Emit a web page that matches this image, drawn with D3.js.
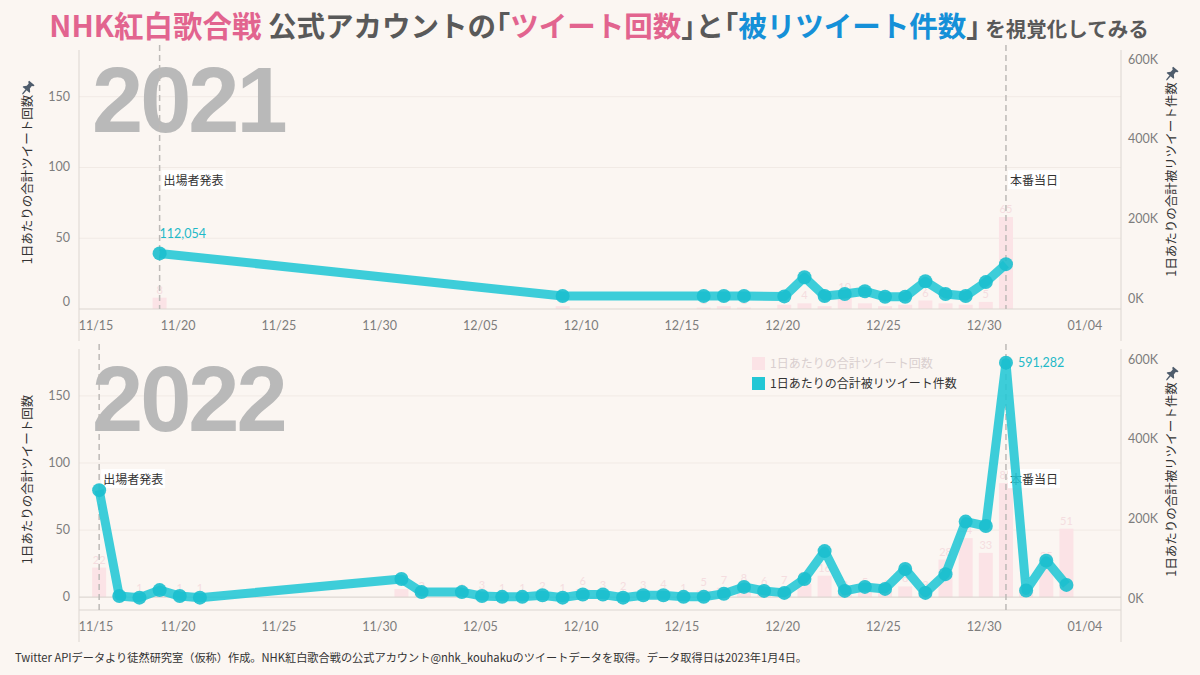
<!DOCTYPE html>
<html>
<head>
<meta charset="utf-8">
<script src="https://cdn.jsdelivr.net/npm/d3@7"></script>
<style>
  body { margin: 0; background: #fbf6f2; }
  svg { display: block; }
</style>
</head>
<body>
<div id="chart"></div>
<script>
// ---- data ----
const dates2021 = ["11/19","12/09","12/16","12/17","12/18","12/20","12/21","12/22","12/23","12/24",
  "12/25","12/26","12/27","12/28","12/29","12/30","12/31"];
const retweets2021 = [112054, 5000, 5000, 5000, 5000, 4000, 52000, 5000, 10000, 17000,
  3000, 3000, 42000, 10000, 5000, 40000, 85000];
const tweets2021 = [8, 2, 1, 2, 1, 3, 4, 2, 10, 4, 2, 3, 6, 4, 3, 5, 65];

const dates2022 = ["11/16","11/17","11/18","11/19","11/20","11/21","12/01","12/02","12/04","12/05",
  "12/06","12/07","12/08","12/09","12/10","12/11","12/12","12/13","12/14","12/15",
  "12/16","12/17","12/18","12/19","12/20","12/21","12/22","12/23","12/24","12/25",
  "12/26","12/27","12/28","12/29","12/30","12/31","01/01","01/02","01/03"];
const retweets2022 = [271000, 5000, 1000, 20000, 5000, 1000, 48000, 15000, 15000, 5000,
  3000, 3000, 7000, 1000, 9000, 9000, 1000, 7000, 7000, 3000,
  3000, 11000, 28000, 18000, 13000, 48000, 118000, 18000, 28000, 23000,
  73000, 13000, 60000, 192000, 181000, 591282, 19000, 94000, 33000];
const tweets2022 = [22, 1, 1, 1, 1, 1, 6, 2, 1, 3,
  1, 1, 2, 1, 6, 3, 2, 3, 4, 1,
  5, 7, 8, 6, 7, 10, 16, 3, 5, 4,
  8, 3, 28, 44, 33, 85, 5, 25, 51];

const refDates2021 = ["11/19", "12/31"];
const refDates2022 = ["11/16", "12/31"];
const refLabels = ["出場者発表", "本番当日"];

const leftTicks = [0, 50, 100, 150];
const rightTicks = [0, 200000, 400000, 600000];

const leftTitle = "1日あたりの合計ツイート回数";
const rightTitle = "1日あたりの合計被リツイート件数";
const legendLabels = ["1日あたりの合計ツイート回数", "1日あたりの合計被リツイート件数"];

// ---- layout ----
const width = 1200, height = 675;
const left = 79, right = 1121;
const teal = "#22c7d5";
const barPink = "#fbe3e6";
const axisGray = "#dcd6d1";
const jp = "'Noto Sans CJK JP', 'Noto Sans', sans-serif";

const charts = [
  { year: 2021, dates: dates2021, rt: retweets2021, tw: tweets2021, refs: refDates2021,
    top: 50, bottom: 309, leftDomain: [0, 183], rightDomain: [-27600, 623000],
    peak: "above", pinLeft: true, legend: false },
  { year: 2022, dates: dates2022, rt: retweets2022, tw: tweets2022, refs: refDates2022,
    top: 349, bottom: 610, leftDomain: [-9.6, 185], rightDomain: [-30000, 625600],
    peak: "right", pinLeft: false, legend: true }
];

const svg = d3.select("#chart").append("svg")
  .attr("width", width).attr("height", height);

svg.append("rect").attr("width", width).attr("height", height).attr("fill", "#fbf6f2");

// title (brackets set half-width like the original)
const title = svg.append("text")
  .attr("x", 599).attr("y", 37)
  .attr("text-anchor", "middle")
  .style("font-family", jp).style("font-weight", 700);
[
  ["NHK紅白歌合戦", "#e2648f", 29.5, false],
  [" 公式アカウントの", "#595959", 28.5, false],
  ["「", "#595959", 28.5, true],
  ["ツイート回数", "#e2648f", 28.5, false],
  ["」", "#595959", 28.5, true],
  ["と", "#595959", 28.5, false],
  ["「", "#595959", 28.5, true],
  ["被リツイート件数", "#1590d8", 28.5, false],
  ["」", "#595959", 28.5, true],
  [" を視覚化してみる", "#595959", 20.5, false]
].forEach(([t, c, s, half]) => {
  const ts = title.append("tspan").attr("fill", c).style("font-size", s + "px").text(t);
  if (half) ts.style("font-feature-settings", "'halt'");
});

function pin(g, x, y) {
  g.append("path")
    .attr("transform", `translate(${x},${y}) rotate(40)`)
    .attr("d", "M-3.5,-6 h7 v1.5 l-1.5,1 v3 l2.5,2.5 v1 h-9 v-1 l2.5,-2.5 v-3 l-1.5,-1 z M-0.7,3 h1.4 v5 l-0.7,1 l-0.7,-1 z")
    .attr("fill", "#4e5c6c");
}

const fmt = d3.timeFormat("%m/%d");

charts.forEach(c => {
  const parse = (s, h) => {
    const [m, d] = s.split("/").map(Number);
    return new Date(m < 6 ? c.year + 1 : c.year, m - 1, d, h);
  };
  const x = d3.scaleTime()
    .domain([new Date(c.year, 10, 15, 2), new Date(c.year + 1, 0, 5, 19)])
    .range([left, right]);
  const yL = d3.scaleLinear().domain(c.leftDomain).range([c.bottom, c.top]);
  const yR = d3.scaleLinear().domain(c.rightDomain).range([c.bottom, c.top]);

  const rows = c.dates.map((s, i) => ({ date: parse(s, 2), rt: c.rt[i], tw: c.tw[i] }));

  const g = svg.append("g");

  // gridlines
  g.selectAll(".grid").data(leftTicks.filter(v => v > 0)).enter().append("line")
    .attr("x1", left).attr("x2", right)
    .attr("y1", d => yL(d)).attr("y2", d => yL(d))
    .attr("stroke", "#f1eae5").attr("stroke-width", 1);

  // big year
  g.append("text")
    .attr("x", 92).attr("y", c.top + 82)
    .attr("fill", "#b9b9b9")
    .style("font-family", "'Liberation Sans', Arial, sans-serif")
    .style("font-weight", 700).style("font-size", "92px")
    .style("letter-spacing", "-3px")
    .text(c.year);

  // bars
  g.selectAll(".bar").data(rows).enter().append("rect")
    .attr("x", d => x(d.date) - 7).attr("width", 14)
    .attr("y", d => yL(d.tw)).attr("height", d => yL(0) - yL(d.tw))
    .attr("fill", barPink);
  g.selectAll(".barlab").data(rows).enter().append("text")
    .attr("x", d => x(d.date)).attr("y", d => yL(d.tw) - 4)
    .attr("text-anchor", "middle")
    .attr("fill", "#f5dde0")
    .style("font-family", "Lato, 'Noto Sans', sans-serif").style("font-size", "11px")
    .text(d => d.tw);

  // frame lines
  g.append("line").attr("x1", left).attr("x2", right).attr("y1", c.bottom).attr("y2", c.bottom)
    .attr("stroke", axisGray);
  if (yL(0) < c.bottom - 1) {
    g.append("line").attr("x1", left).attr("x2", right).attr("y1", yL(0)).attr("y2", yL(0))
      .attr("stroke", "#d6d0cb");
  }
  [left, right].forEach(px => {
    g.append("line").attr("x1", px).attr("x2", px).attr("y1", c.top).attr("y2", c.bottom + 32)
      .attr("stroke", axisGray);
  });

  // axes
  const tickStyle = sel => {
    sel.select(".domain").remove();
    sel.selectAll("text").attr("fill", "#7d7d7d")
      .style("font-family", "Lato, 'Noto Sans', sans-serif").style("font-size", "12.5px");
  };
  const ax = g.append("g").attr("transform", `translate(0,${c.bottom})`)
    .call(d3.axisBottom(x)
      .tickValues(d3.timeDay.range(new Date(c.year, 10, 15), new Date(c.year + 1, 0, 6), 5))
      .tickFormat(fmt).tickSize(0).tickPadding(12))
    .call(tickStyle);
  ax.selectAll(".tick").attr("transform", d => `translate(${Math.max(x(d), left + 17)},0)`);

  const al = g.append("g").attr("transform", `translate(${left},0)`)
    .call(d3.axisLeft(yL).tickValues(leftTicks).tickSize(0).tickPadding(9))
    .call(tickStyle);
  al.selectAll(".tick").attr("transform", d => `translate(0,${Math.min(yL(d), c.bottom - 7)})`);

  g.append("g").attr("transform", `translate(${right},0)`)
    .call(d3.axisRight(yR).tickValues(rightTicks).tickSize(0).tickPadding(7)
      .tickFormat(d => d3.format("d")(d / 1000) + "K"))
    .call(tickStyle);

  // axis titles
  const midY = (c.top + c.bottom) / 2;
  [[28, leftTitle], [1172, rightTitle]].forEach(([tx, t]) => {
    g.append("text")
      .attr("transform", `translate(${tx},${midY}) rotate(-90)`)
      .attr("text-anchor", "middle").attr("dy", "0.35em")
      .attr("fill", "#333")
      .style("font-family", jp).style("font-size", "12.5px")
      .text(t);
  });
  if (c.pinLeft) pin(g, 28, midY - 92);
  pin(g, 1172, midY - 106);

  // reference lines
  c.refs.forEach((s, i) => {
    const rx = x(parse(s, 2));
    g.append("line").attr("x1", rx).attr("x2", rx)
      .attr("y1", c.top - 5).attr("y2", c.bottom)
      .attr("stroke", "#bdbab7").attr("stroke-width", 1.5)
      .attr("stroke-dasharray", "6,4");
    const lab = g.append("g");
    const t = lab.append("text")
      .attr("x", rx + 4).attr("y", c.top + 131).attr("dy", "0.35em")
      .attr("fill", "#333")
      .style("font-family", jp).style("font-size", "12px")
      .text(refLabels[i]);
    const bb = t.node().getBBox();
    lab.insert("rect", "text")
      .attr("x", bb.x - 2).attr("y", bb.y - 1)
      .attr("width", bb.width + 4).attr("height", bb.height + 2)
      .attr("fill", "#fff");
  });

  // retweet line
  g.append("path").datum(rows)
    .attr("d", d3.line().x(d => x(d.date)).y(d => yR(d.rt)))
    .attr("fill", "none").attr("stroke", teal)
    .attr("stroke-width", 9).attr("stroke-opacity", 0.88)
    .attr("stroke-linejoin", "round");
  g.selectAll(".pt").data(rows).enter().append("circle")
    .attr("cx", d => x(d.date)).attr("cy", d => yR(d.rt)).attr("r", 7)
    .attr("fill", "#1bbfce").attr("opacity", 0.9);

  // peak label
  const peak = rows.reduce((a, b) => (b.rt > a.rt ? b : a));
  g.append("text")
    .attr("x", c.peak === "above" ? x(peak.date) : x(peak.date) + 12)
    .attr("y", c.peak === "above" ? yR(peak.rt) - 20 : yR(peak.rt))
    .attr("dy", "0.35em")
    .attr("fill", "#1fb9c8")
    .style("font-family", "Lato, 'Noto Sans', sans-serif").style("font-size", "12.5px")
    .text(d3.format(",")(peak.rt));

  // legend
  if (c.legend) {
    const lg = g.append("g").attr("transform", `translate(752,${c.top + 8})`);
    [[barPink, "#d9cfcf"], [teal, "#333"]].forEach(([fill, tc], i) => {
      lg.append("rect").attr("x", 0).attr("y", i * 20).attr("width", 13).attr("height", 13).attr("fill", fill);
      lg.append("text").attr("x", 18).attr("y", i * 20 + 6.5).attr("dy", "0.35em")
        .attr("fill", tc)
        .style("font-family", jp).style("font-size", "12px")
        .text(legendLabels[i]);
    });
  }
});

// footer
svg.append("text")
  .attr("x", 15).attr("y", 662)
  .attr("fill", "#333")
  .style("font-family", jp).style("font-size", "11.2px")
  .text("Twitter APIデータより徒然研究室（仮称）作成。NHK紅白歌合戦の公式アカウント@nhk_kouhakuのツイートデータを取得。データ取得日は2023年1月4日。");
</script>
</body>
</html>
